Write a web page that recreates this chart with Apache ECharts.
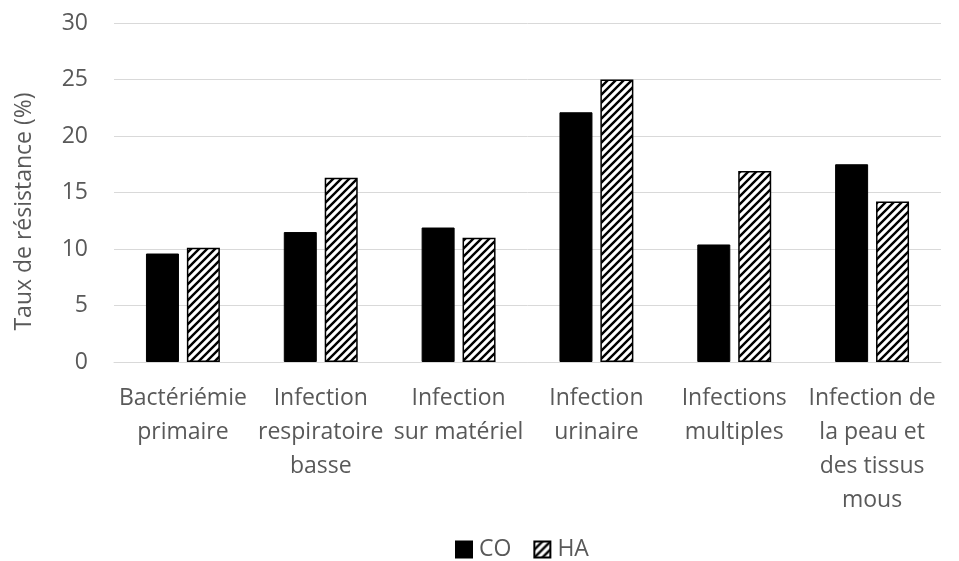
<!DOCTYPE html>
<html>
<head>
<meta charset="utf-8">
<script src="https://cdn.jsdelivr.net/npm/echarts@6/dist/echarts.min.js"></script>
<style>
  html, body { margin: 0; padding: 0; background: #fff; }
  #chartDiv { width: 959px; height: 561px; }
</style>
</head>
<body>
<div id="chartDiv"></div>
<script>
// chart data
let categories = [
    "Bactériémie\nprimaire",
    "Infection\nrespiratoire\nbasse",
    "Infection\nsur matériel",
    "Infection\nurinaire",
    "Infections\nmultiples",
    "Infection de\nla peau et\ndes tissus\nmous"
];
let coValues = [9.6, 11.5, 11.9, 22.1, 10.4, 17.5];
let haValues = [10.1, 16.3, 11.0, 25.0, 16.9, 14.2];
let seriesNames = ["CO", "HA"];

let textColor = '#595959';
let fontName = '"Open Sans", "Noto Sans", sans-serif';
let fontSize = 23;

// hatch pattern for HA bars
function makeHatch(){
    let size = 8;
    let cv = document.createElement('canvas');
    cv.width = size;
    cv.height = size;
    let ctx = cv.getContext('2d');
    ctx.fillStyle = '#fff';
    ctx.fillRect(0, 0, size, size);
    ctx.strokeStyle = '#000';
    ctx.lineWidth = 2.4;
    ctx.beginPath();
    ctx.moveTo(0, size); ctx.lineTo(size, 0);
    ctx.moveTo(-size/2, size/2); ctx.lineTo(size/2, -size/2);
    ctx.moveTo(size/2, size*1.5); ctx.lineTo(size*1.5, size/2);
    ctx.stroke();
    return cv;
}

let hatch = { image: makeHatch(), repeat: 'repeat' };

let myChart = echarts.init(document.getElementById('chartDiv'));

let option = {
    backgroundColor: '#fff',
    animation: false,
    grid: { left: 114, right: 18, top: 23, bottom: 199, containLabel: false },
    legend: {
        top: 533,
        left: 450,
        icon: 'rect',
        itemWidth: 16,
        itemHeight: 16,
        itemGap: 22,
        textStyle: { color: textColor, fontSize: fontSize, fontFamily: fontName, padding: [0, 0, 0, 2] },
        data: seriesNames
    },
    xAxis: {
        type: 'category',
        data: categories,
        axisLine: { show: true, lineStyle: { color: '#d9d9d9', width: 1 } },
        axisTick: { show: false },
        axisLabel: {
            color: textColor,
            fontSize: fontSize,
            fontFamily: fontName,
            lineHeight: 34,
            margin: 19,
            interval: 0
        }
    },
    yAxis: {
        type: 'value',
        min: 0,
        max: 30,
        interval: 5,
        name: 'Taux de résistance (%)',
        nameLocation: 'middle',
        nameGap: 78,
        nameTextStyle: { color: textColor, fontSize: fontSize, fontFamily: fontName, padding: [0, 38, 0, 0] },
        axisLine: { show: false },
        axisTick: { show: false },
        axisLabel: { color: textColor, fontSize: fontSize, fontFamily: fontName, margin: 26 },
        splitLine: { lineStyle: { color: '#d9d9d9', width: 1 } }
    },
    series: [
        {
            name: seriesNames[0],
            type: 'bar',
            data: coValues,
            barWidth: 33,
            barGap: '24%',
            itemStyle: { color: '#000', borderColor: '#000', borderWidth: 1 }
        },
        {
            name: seriesNames[1],
            type: 'bar',
            data: haValues,
            barWidth: 33,
            itemStyle: { color: hatch, borderColor: '#000', borderWidth: 1.5 }
        }
    ]
};

option && myChart.setOption(option);
</script>
</body>
</html>
